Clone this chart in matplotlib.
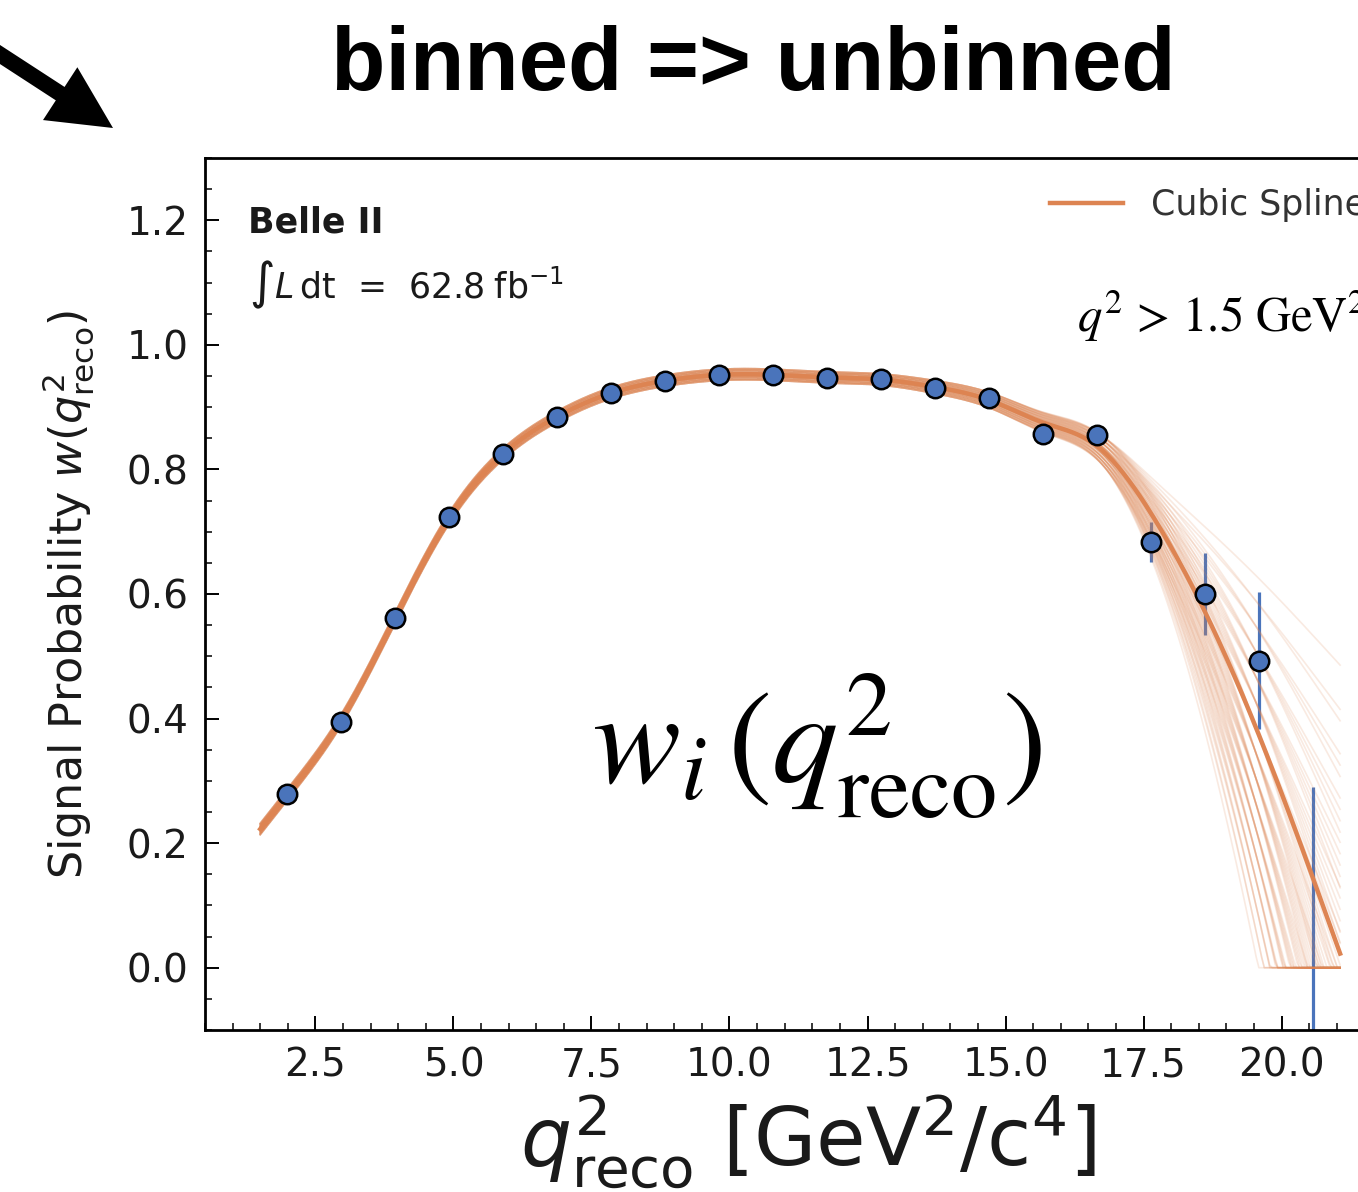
import itertools
import numpy as np
import matplotlib
matplotlib.use("Agg")
import matplotlib.pyplot as plt
from matplotlib.patches import FancyArrow
from matplotlib.ticker import MultipleLocator

# binning in q2_reco [GeV^2/c^4]
q2_lo, q2_hi, n_bins = 1.5, 21.06, 20
edges = np.linspace(q2_lo, q2_hi, n_bins + 1)
centers = 0.5 * (edges[:-1] + edges[1:])

# per-bin signal probability and its uncertainty
w_val = [0.279, 0.395, 0.562, 0.724, 0.825, 0.884, 0.923, 0.942, 0.952, 0.952,
         0.947, 0.945, 0.931, 0.915, 0.857, 0.856, 0.684, 0.600, 0.493, -0.20]
w_err = [0.006, 0.006, 0.006, 0.006, 0.006, 0.006, 0.006, 0.006, 0.006, 0.006,
         0.006, 0.006, 0.007, 0.008, 0.012, 0.012, 0.032, 0.066, 0.110, 0.490]

# spline anchor at the upper edge of the range: value, fit spread, toy spread
end_val, end_err, end_toy_err = -0.03, 0.06, 0.20
smooth_lambda = 600.0

# toy variations (in units of the uncertainty): common level and tail tilt
toy_levels = [-1.5, -1.125, -0.75, -0.375, 0.0, 0.375, 0.75, 1.125, 1.5]
toy_tilts = [-2.5, -2.0, -1.5, -1.0, -0.5, 0.0, 0.5, 1.0]
tail_ramp = [0.0, 0.3, 0.6, 1.0]

ORANGE = "#dd8452"
BLUE = "#4a74bb"


def smoothing_matrix(xk, wk, xs, lam):
    """Linear map from knot values to a cubic smoothing spline sampled on xs."""
    n = len(xs)
    h = xs[1] - xs[0]
    P = np.zeros((len(xk), n))
    for i, x in enumerate(xk):
        j = min(int((x - xs[0]) / h), n - 2)
        t = (x - xs[j]) / h
        P[i, j] = 1 - t
        P[i, j + 1] = t
    D = np.diff(np.eye(n), 2, axis=0) / h**2
    A = P.T @ (wk[:, None] * P) + lam * h * (D.T @ D)
    return np.linalg.solve(A, P.T * wk)


val = np.array(w_val)
err = np.array(w_err)
knot_x = np.append(centers[:-1], q2_hi)
knot_y = np.append(val[:-1], end_val)
knot_e = np.append(err[:-1], end_err)
toy_e = np.append(err[:-1], end_toy_err)
xs = np.linspace(q2_lo, q2_hi, 400)
S = smoothing_matrix(knot_x, 1.0 / knot_e**2, xs, smooth_lambda)

fig = plt.figure(figsize=(13.58, 11.92), dpi=100)
ax = fig.add_axes([205 / 1358, 1 - 1030 / 1192, 1187 / 1358, 872 / 1192])

# error bars sit underneath the spline band
ax.errorbar(centers, val, yerr=err, fmt="none", ecolor=BLUE, elinewidth=2.3,
            capsize=0, zorder=1)

# toy splines from shifted inputs
ramp = np.zeros(len(knot_x))
ramp[-len(tail_ramp):] = tail_ramp
for lvl, tilt in itertools.product(toy_levels, toy_tilts):
    ys = S @ (knot_y + (lvl + tilt * ramp) * toy_e)
    ax.plot(xs, np.clip(ys, 0, None), color=ORANGE, lw=1.2, alpha=0.17, zorder=2)

main = S @ knot_y
ax.plot(xs, np.clip(main, 0, None), color=ORANGE, lw=3.2, zorder=3,
        label="Cubic Spline")

ax.plot(centers, val, "o", ms=14, mfc=BLUE, mec="black", mew=1.8, zorder=4)

ax.set_xlim(0.5, 22.0)
ax.set_ylim(-0.1, 1.3)
ax.xaxis.set_major_locator(MultipleLocator(2.5))
ax.xaxis.set_minor_locator(MultipleLocator(0.5))
ax.yaxis.set_major_locator(MultipleLocator(0.2))
ax.yaxis.set_minor_locator(MultipleLocator(0.05))
ax.tick_params(which="both", direction="in", top=False, right=True,
               labelsize=28, pad=12, labelcolor="#1a1a1a")
ax.tick_params(which="major", length=10, width=1.4)
ax.tick_params(which="minor", length=5, width=1.1)
for sp in ax.spines.values():
    sp.set_linewidth(2.0)

ax.text(1.28, 1.181, "Belle II", fontsize=25, fontweight="bold",
        color="#1a1a1a", va="baseline")
ax.text(1.30, 1.075, r"$\int L\,\mathrm{dt}\;\,=\;\,62.8\;\mathrm{fb}^{-1}$",
        fontsize=25, color="#1a1a1a", va="baseline")
ax.text(16.3, 1.02, r"$q^2\,>\,1.5\ \mathrm{GeV}^2$", fontsize=35,
        math_fontfamily="stix", va="baseline", clip_on=False)
ax.text(7.51, 0.297, r"$w_i\,(q^2_{\mathrm{reco}})$", fontsize=95,
        math_fontfamily="stix", va="baseline")

fig.legend(loc="center left", bbox_to_anchor=(1050 / 1358, 1 - 205 / 1192),
           frameon=False, fontsize=25, handlelength=2.1, handletextpad=0.8,
           borderpad=0, borderaxespad=0, labelcolor="#333333")

# page-level overlay in pixel units: title, arrow and axis labels
ov = fig.add_axes([0, 0, 1, 1], zorder=10)
ov.set_xlim(0, 1358)
ov.set_ylim(1192, 0)
ov.axis("off")
ov.text(753, 90, "binned => unbinned", fontsize=64, fontweight="bold",
        family=["Liberation Sans", "DejaVu Sans"], ha="center", va="baseline")
ov.add_patch(FancyArrow(-30, 35, 143, 93, width=16, head_width=63,
                        head_length=63, length_includes_head=True,
                        color="black", lw=0))
ov.text(68, 595, r"Signal Probability $w(q^2_{\mathrm{reco}})$", fontsize=32,
        rotation=90, ha="center", va="center", rotation_mode="anchor",
        color="#1a1a1a")
ov.text(808, 1167, r"$q^2_{\mathrm{reco}}$ [GeV$^2$/c$^4$]", fontsize=58,
        ha="center", va="baseline", color="#1a1a1a")

fig.savefig("out.png", dpi=100)
